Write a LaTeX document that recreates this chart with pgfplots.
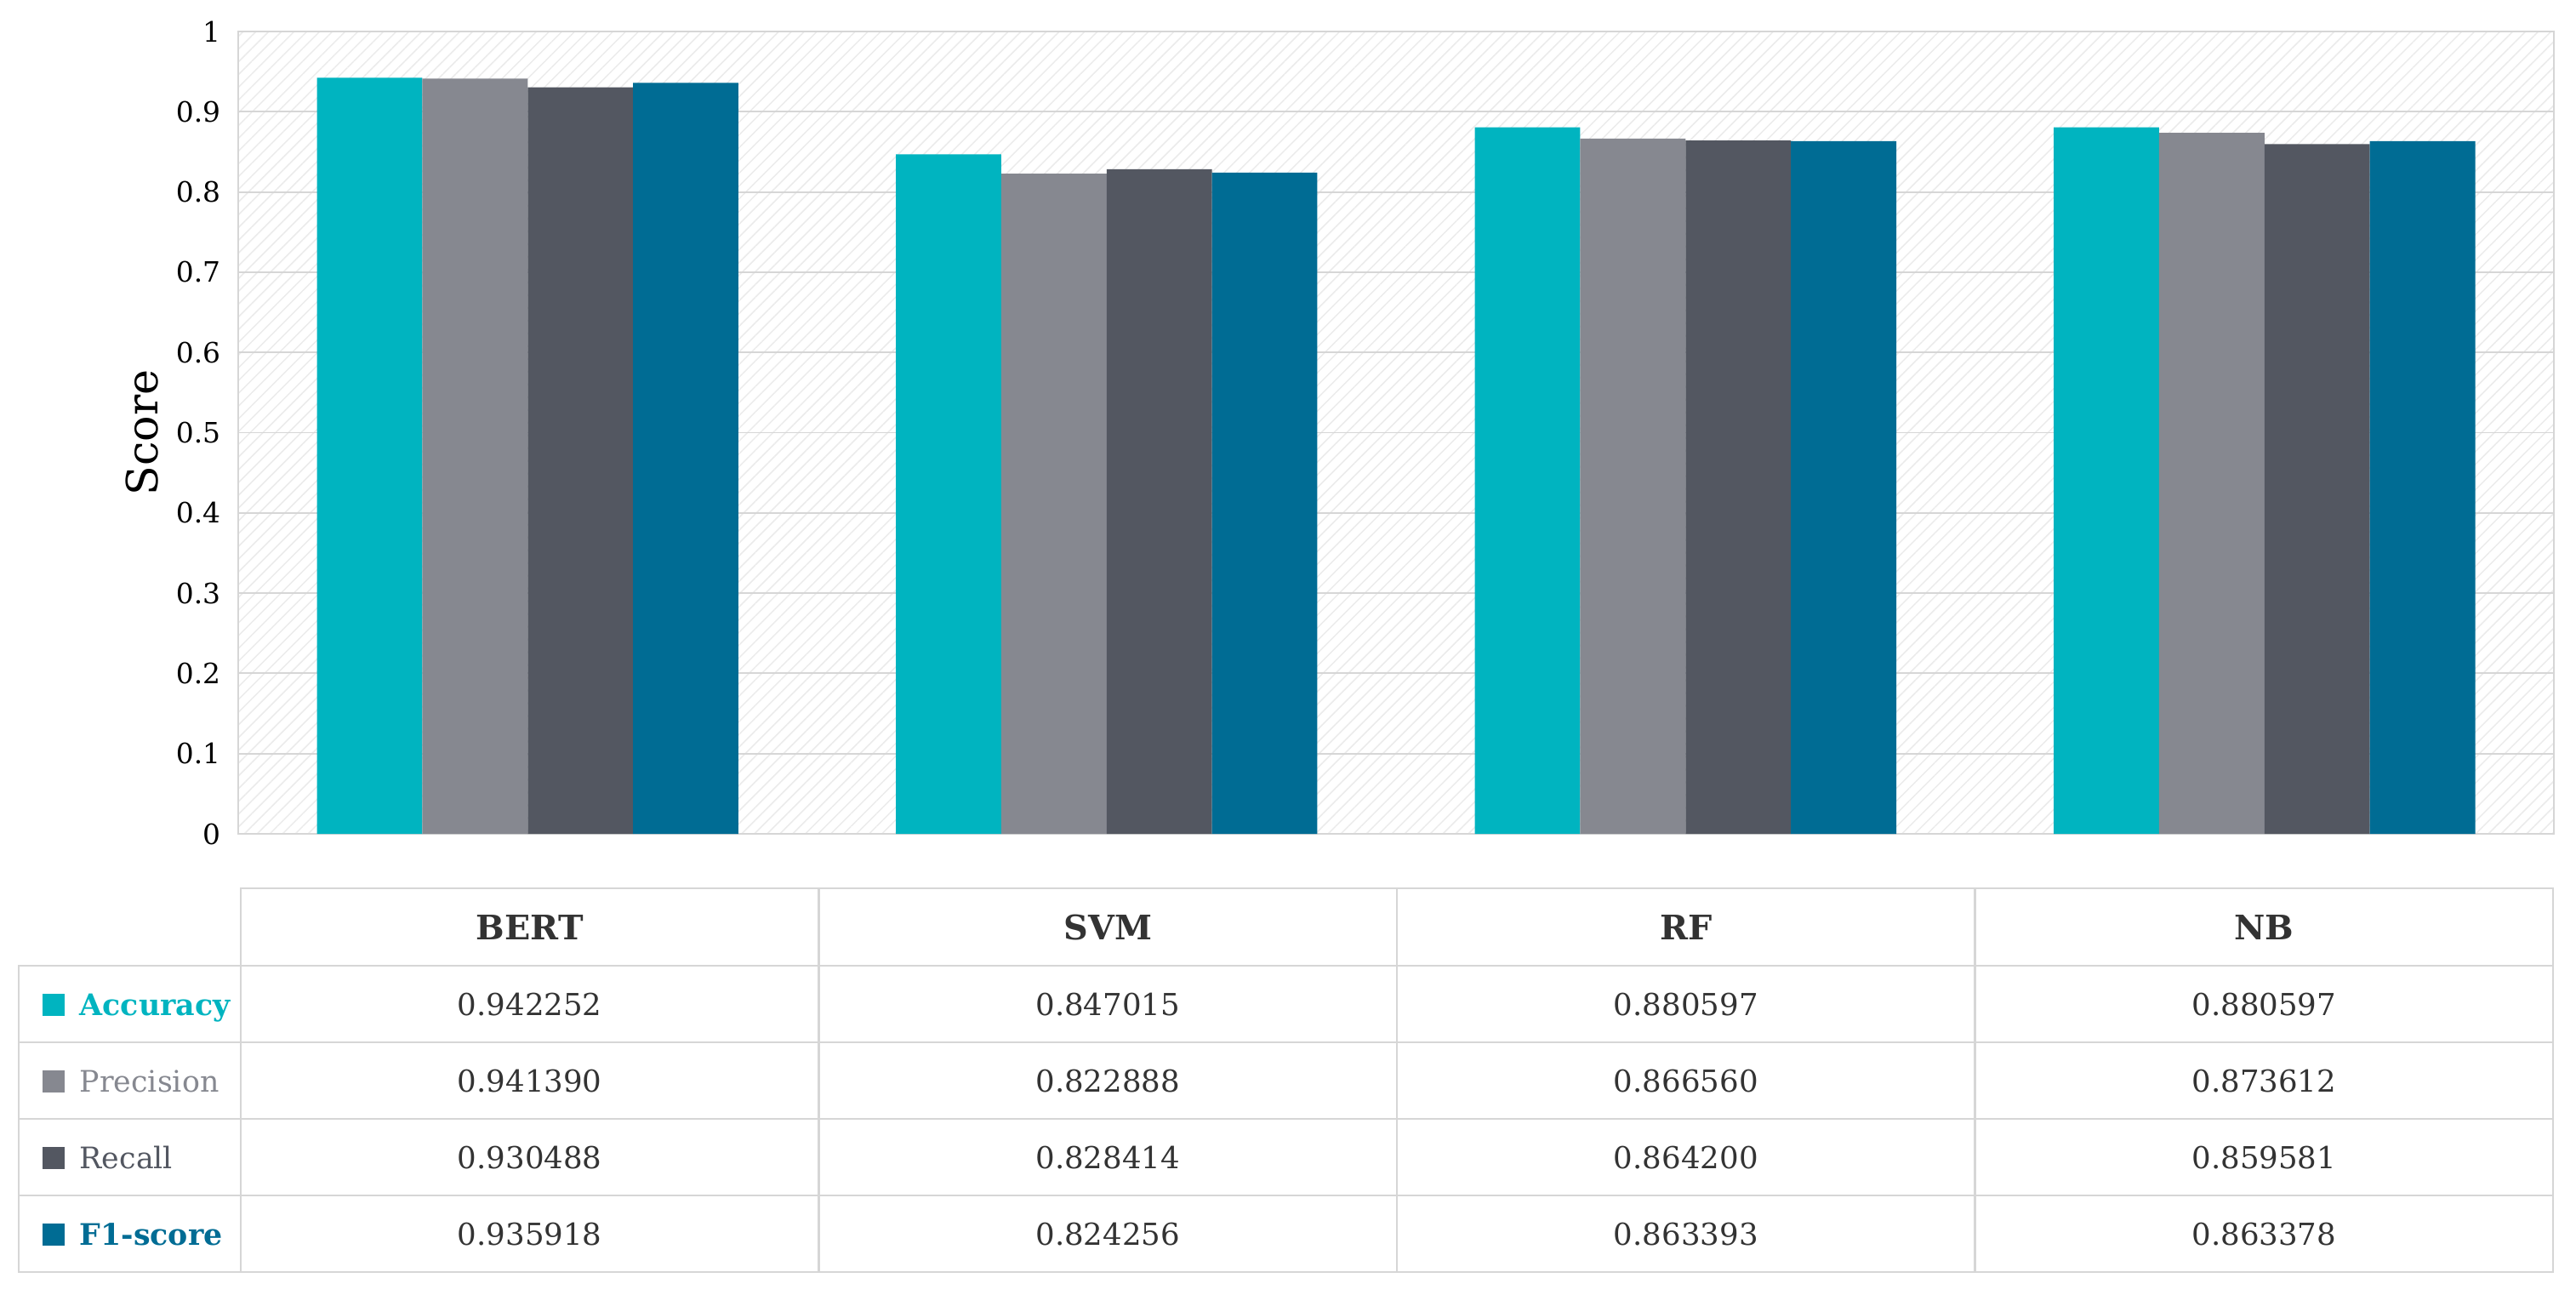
\documentclass[border=0pt]{standalone}
\usepackage{fontspec}
\setmainfont{DejaVu Serif}
\usepackage{pgfplots}
\usepackage{pgfplotstable}
\pgfplotsset{compat=1.18}
\usetikzlibrary{patterns.meta}
\definecolor{cAcc}{HTML}{00B4C0}
\definecolor{cPre}{HTML}{868890}
\definecolor{cRec}{HTML}{535761}
\definecolor{cF1}{HTML}{006C94}
\definecolor{gridc}{HTML}{D6D6D6}
\definecolor{hatchc}{HTML}{EBEBEB}
\definecolor{txt}{HTML}{333333}

\pgfplotstableread{
x acc prec rec f1
0 0.942252 0.941390 0.930488 0.935918
1 0.847015 0.822888 0.828414 0.824256
2 0.880597 0.866560 0.864200 0.863393
3 0.880597 0.873612 0.859581 0.863378
}\datatable

\begin{document}
\begin{tikzpicture}
\useasboundingbox (0,0) rectangle (800pt,-402.11pt);
\begin{axis}[
  at={(73.98pt,-258.92pt)}, anchor=south west,
  scale only axis, width=719.16pt, height=249.14pt,
  xmin=-0.5, xmax=3.5, ymin=0, ymax=1,
  ybar=0pt, bar width=0.182,
  xtick=\empty,
  ytick={0,0.1,0.2,0.3,0.4,0.5,0.6,0.7,0.8,0.9,1},
  yticklabels={0,0.1,0.2,0.3,0.4,0.5,0.6,0.7,0.8,0.9,1},
  yticklabel style={font=\fontsize{8.7}{10}\selectfont, inner sep=0pt, xshift=-5.3pt},
  major tick length=0pt,
  ymajorgrids,
  major grid style={draw=gridc, line width=0.5pt},
  axis line style={draw=gridc, line width=0.5pt},
  axis background/.style={pattern={Lines[angle=45,distance=2.8pt,line width=0.4pt]}, pattern color=hatchc},
  ylabel={Score},
  ylabel style={font=\fontsize{13.4}{15}\selectfont, at={(axis description cs:-0.0349,0.5)}, anchor=base, inner sep=0pt},
]
\addplot[draw=none, fill=cAcc] table[x=x, y=acc] {\datatable};
\addplot[draw=none, fill=cPre] table[x=x, y=prec] {\datatable};
\addplot[draw=none, fill=cRec] table[x=x, y=rec] {\datatable};
\addplot[draw=none, fill=cF1] table[x=x, y=f1] {\datatable};
\end{axis}

\begin{scope}[x=0.26420pt, y=-0.26420pt]
  % table grid
  \draw[gridc, line width=0.6pt] (283,1044) rectangle (3001,1135);
  \draw[gridc, line width=0.6pt] (22,1135) rectangle (3001,1495);
  \foreach \yy in {1225,1315,1405} \draw[gridc, line width=0.6pt] (22,\yy) -- (3001,\yy);
  \foreach \xx in {962.5,1642,2321.5} \draw[gridc, line width=0.6pt] (\xx,1044) -- (\xx,1495);
  \draw[gridc, line width=0.6pt] (283,1135) -- (283,1495);
  % header
  \foreach \name [count=\i from 0] in {BERT,SVM,RF,NB}
    \node[font=\fontsize{10.5}{12}\selectfont\bfseries, text=txt, inner sep=0pt, anchor=base] at (622.75+679.5*\i,1104) {\name};
  % row labels
  \fill[cAcc] (50,1168) rectangle (76,1194);
  \fill[cPre] (50,1258) rectangle (76,1284);
  \fill[cRec] (50,1348) rectangle (76,1374);
  \fill[cF1] (50,1438) rectangle (76,1464);
  \node[font=\fontsize{9.2}{11}\selectfont\bfseries, text=cAcc, inner sep=0pt, anchor=base west] at (93,1193) {Accuracy};
  \node[font=\fontsize{9.2}{11}\selectfont, text=cPre, inner sep=0pt, anchor=base west] at (93,1283) {Precision};
  \node[font=\fontsize{9.2}{11}\selectfont, text=cRec, inner sep=0pt, anchor=base west] at (93,1373) {Recall};
  \node[font=\fontsize{9.2}{11}\selectfont\bfseries, text=cF1, inner sep=0pt, anchor=base west] at (93,1463) {F1-score};
  % values
  \foreach \a/\b/\c/\d [count=\r from 0] in {
      0.942252/0.847015/0.880597/0.880597,
      0.941390/0.822888/0.866560/0.873612,
      0.930488/0.828414/0.864200/0.859581,
      0.935918/0.824256/0.863393/0.863378} {
    \node[font=\fontsize{9.4}{11}\selectfont, text=txt, inner sep=0pt, anchor=base] at (622.75,1193+90*\r) {\a};
    \node[font=\fontsize{9.4}{11}\selectfont, text=txt, inner sep=0pt, anchor=base] at (1302.25,1193+90*\r) {\b};
    \node[font=\fontsize{9.4}{11}\selectfont, text=txt, inner sep=0pt, anchor=base] at (1981.75,1193+90*\r) {\c};
    \node[font=\fontsize{9.4}{11}\selectfont, text=txt, inner sep=0pt, anchor=base] at (2661.25,1193+90*\r) {\d};
  }
\end{scope}
\end{tikzpicture}
\end{document}
